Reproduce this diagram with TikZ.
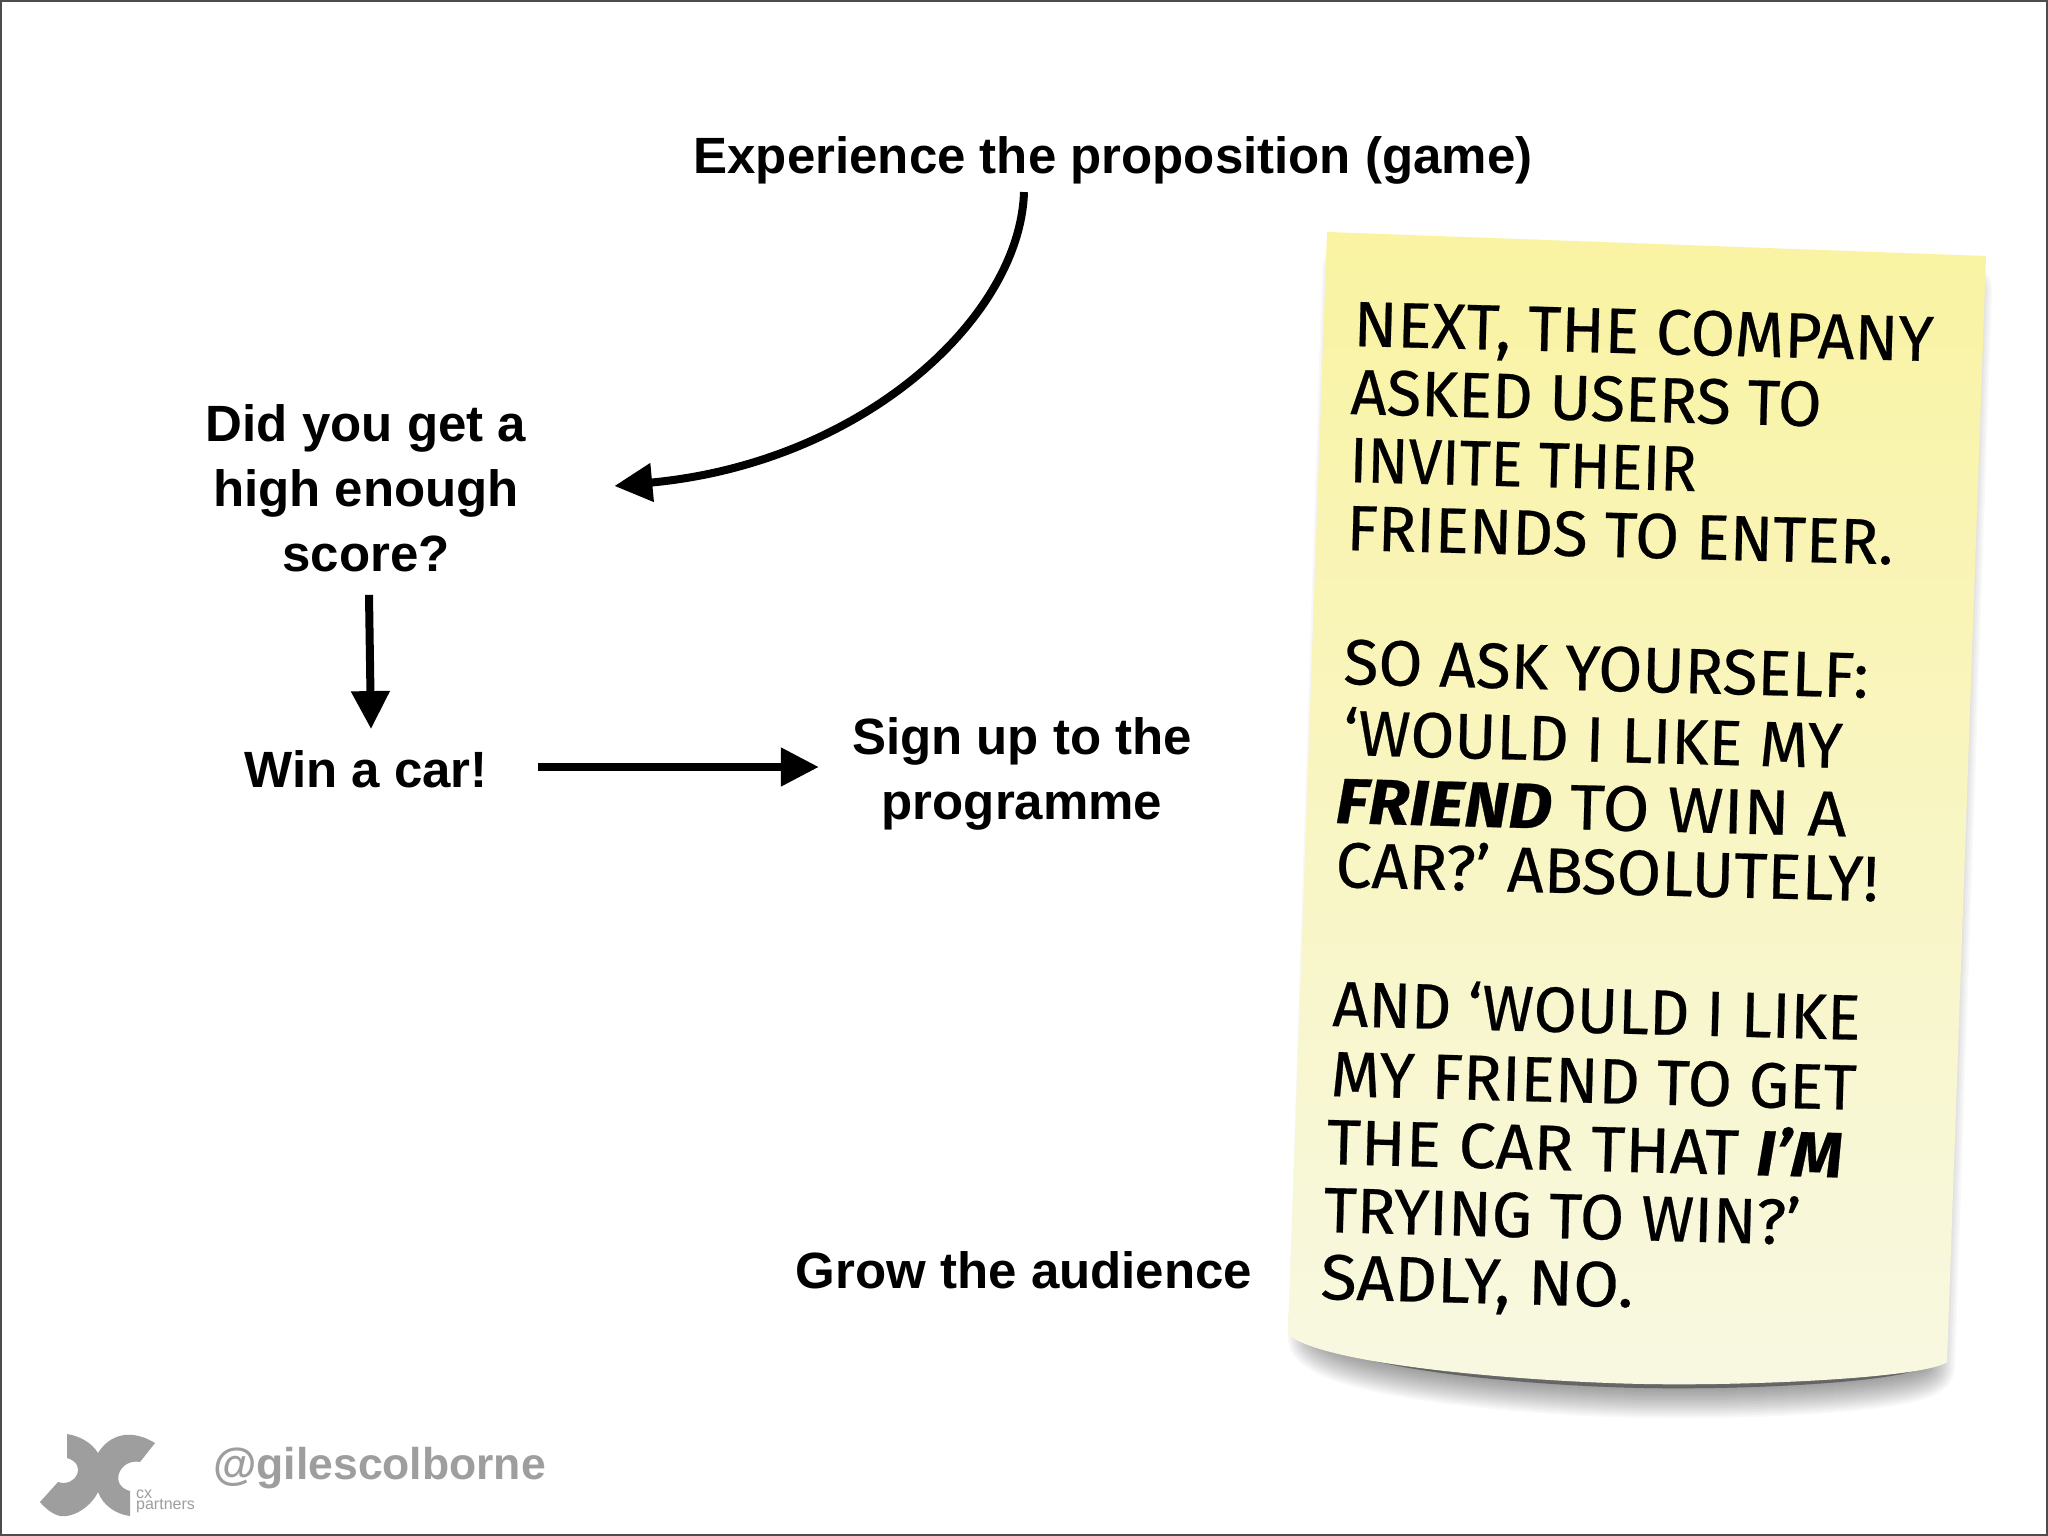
\documentclass[tikz,border=0pt]{standalone}
\usepackage{fontspec}
\usepackage{graphicx}
\usetikzlibrary{arrows.meta,calc}
\setmainfont{Liberation Sans}
\newfontfamily\comicfont[FakeBold=0.4]{Fira Sans}
\definecolor{notetop}{RGB}{249,243,162}
\definecolor{notebot}{RGB}{248,248,226}
\definecolor{logogray}{gray}{0.62}
\tikzset{
  lbl/.style={font=\fontsize{51}{65}\selectfont\bfseries, align=center, inner sep=0pt, text=black},
  arrowline/.style={draw=black, line width=8pt, -{Triangle[length=38pt,width=37pt]}},
  noteline/.style={anchor=base west, rotate=-1.5, inner sep=0pt, text=black, font=\comicfont\fontsize{64}{64}\selectfont},
}
\newcommand{\fitw}[2]{\resizebox{#1pt}{\height}{#2}}
\newcommand{\notepath}{(1327,232) -- (1986,256) -- (1947,1362) .. controls (1925,1378) and (1750,1386) .. (1645,1384) .. controls (1530,1382) and (1320,1365) .. (1288,1334) -- cycle}
\begin{document}
\begin{tikzpicture}[x=1pt,y=-1pt]
\useasboundingbox (0,0) rectangle (2048,1536);
\fill[white] (0,0) rectangle (2048,1536);
\draw[black!70, line width=2pt] (1,1) rectangle (2047,1535);
% shadow
\foreach \w in {4,8,...,60}{
  \draw[black, opacity=0.027, fill=black, line width=\w pt, line join=round]
    (1352,270) -- (1962,290) -- (1925,1366) .. controls (1905,1382) and (1750,1390) .. (1645,1388) .. controls (1530,1386) and (1345,1369) .. (1318,1338) -- cycle;
}
% note
\shade[top color=notetop, bottom color=notebot] \notepath;
\node[noteline] (n1) at (1353,346) {\fitw{580}{NEXT, THE COMPANY}};
\node[noteline] (n2) at (1350,414) {\fitw{471}{ASKED USERS TO}};
\node[noteline] (n3) at (1349,482) {\fitw{347}{INVITE THEIR}};
\node[noteline] (n4) at (1346,550) {\fitw{547}{FRIENDS TO ENTER.}};
\node[noteline] (n5) at (1343,684) {\fitw{525}{SO ASK YOURSELF:}};
\node[noteline] (n6) at (1343,755) {\fitw{499}{‘WOULD I LIKE MY}};
\node[noteline] (n7) at (1335,823) {\fitw{511}{\textbf{\textit{FRIEND}} TO WIN A}};
\node[noteline] (n8) at (1335,887) {\fitw{543}{CAR?’ ABSOLUTELY!}};
\node[noteline] (n9) at (1332,1026) {\fitw{528}{AND ‘WOULD I LIKE}};
\node[noteline] (n10) at (1330,1096) {\fitw{526}{MY FRIEND TO GET}};
\node[noteline] (n11) at (1326,1164) {\fitw{516}{THE CAR THAT \textbf{\textit{I’M}}}};
\node[noteline] (n12) at (1323,1232) {\fitw{477}{TRYING TO WIN?’}};
\node[noteline] (n13) at (1320,1299) {\fitw{313}{SADLY, NO.}};
% labels
\node[lbl] (exp) at (1113,160) {Experience the proposition (game)};
\node[lbl] (did) at (366,488) {Did you get a\\high enough\\score?};
\node[lbl] (win) at (366,769) {Win a car!};
\node[lbl] (sign) at (1022,774) {Sign up to the\\programme};
\node[lbl] (grow) at (1024,1270) {Grow the audience};
% connectors
\draw[arrowline] ([xshift=-89pt,yshift=-8pt]exp.south) .. controls +(-4,126) and ($(did.east)+(336,-25)$) .. ([xshift=88pt,yshift=2pt]did.east);
\draw[arrowline] ([xshift=3pt,yshift=-23pt]did.south) -- ([xshift=5pt,yshift=21pt]win.north);
\draw[arrowline] ([xshift=50pt,yshift=2pt]win.east) -- ([xshift=-33pt,yshift=7pt]sign.west);
% footer
\node[inner sep=0pt, anchor=west, text=logogray, font=\fontsize{44.5}{46}\selectfont\bfseries] (handle) at (213,1468) {@gilescolborne};
\fill[logogray] (67,1434) .. controls (80,1436) and (92,1443) .. (98,1453)
  .. controls (106,1440) and (125,1425) .. (155,1443)
  -- (140,1462) .. controls (120,1458) and (108,1485) .. (130,1491)
  -- (130,1516) .. controls (115,1514) and (103,1505) .. (98,1492)
  .. controls (92,1505) and (75,1518) .. (60,1516)
  .. controls (52,1514) and (45,1508) .. (40,1502)
  -- (58,1482) .. controls (76,1488) and (88,1464) .. (67,1458) -- cycle;
\node[inner sep=0pt, anchor=west, align=left, text=logogray, font=\fontsize{16}{11}\selectfont] (cx) at (136,1501) {cx\\partners};
\end{tikzpicture}
\end{document}
